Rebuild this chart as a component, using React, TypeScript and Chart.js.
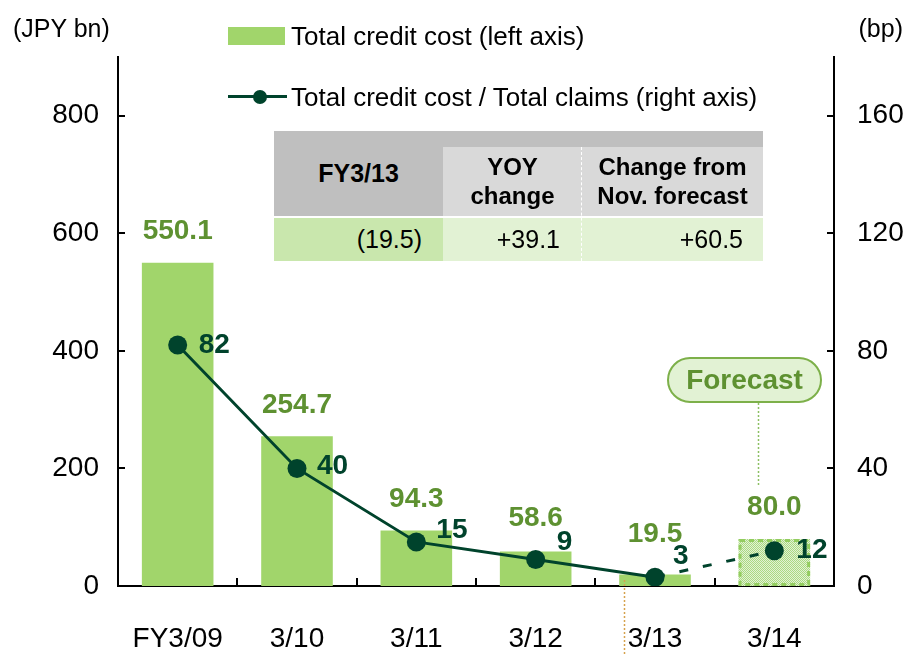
import React, { useEffect, useRef } from 'react';
import { Chart, registerables } from 'chart.js';

Chart.register(...registerables);

// ---------- data ----------
const categories = ['FY3/09', '3/10', '3/11', '3/12', '3/13', '3/14'];
const creditCost = [550.1, 254.7, 94.3, 58.6, 19.5, 80.0];
const creditCostLabels = ['550.1', '254.7', '94.3', '58.6', '19.5', '80.0'];
const costRatio = [82, 40, 15, 9, 3, 12];
const costRatioLabels = ['82', '40', '15', '9', '3', '12'];
const leftTicks = [0, 200, 400, 600, 800];
const rightTicks = [0, 40, 80, 120, 160];
const forecastIndex = 5;
const tableHeaders = [['FY3/13'], ['YOY', 'change'], ['Change from', 'Nov. forecast']];
const tableValues = ['(19.5)', '+39.1', '+60.5'];
const legendLabels = ['Total credit cost (left axis)', 'Total credit cost / Total claims (right axis)'];

// ---------- style ----------
const FONT = '"Liberation Sans", Arial, Helvetica, sans-serif';
const BAR_GREEN = '#a1d56b';
const LABEL_GREEN = '#5e9131';
const DARK = '#00432c';
const barLabelLift = [31, 31, 31, 33, 40, 32];
const lineLabelShift = [
  [21, 0],
  [20, -2],
  [20, -12],
  [21, -17],
  [18, -21],
  [22, 0],
];

function makePattern(ctx: CanvasRenderingContext2D) {
  const c = document.createElement('canvas');
  c.width = 4;
  c.height = 4;
  const p = c.getContext('2d')!;
  p.fillStyle = '#e2f2d4';
  p.fillRect(0, 0, 4, 4);
  p.fillStyle = '#aad982';
  for (let y = 0; y < 4; y++) {
    for (let x = 0; x < 4; x++) {
      if ((x + y) % 2 === 0) p.fillRect(x, y, 1, 1);
    }
  }
  return ctx.createPattern(c, 'repeat')!;
}

const decorPlugin = {
  id: 'decor',
  afterDatasetDraw(chart: any, args: any) {
    if (args.index !== 0) return;
    const ctx = chart.ctx;
    const el = chart.getDatasetMeta(0).data[forecastIndex] as any;
    if (!el) return;
    const w = el.width;
    ctx.save();
    ctx.strokeStyle = '#93cd5f';
    ctx.lineWidth = 3;
    ctx.setLineDash([5, 4]);
    ctx.strokeRect(el.x - w / 2 + 1.5, el.y + 1.5, w - 3, el.base - el.y - 3);
    ctx.restore();
  },
  afterDatasetsDraw(chart: any) {
    const ctx = chart.ctx;
    const barMeta = chart.getDatasetMeta(0);
    const lineMeta = chart.getDatasetMeta(1);
    ctx.save();
    ctx.textBaseline = 'middle';
    ctx.font = `bold 28px ${FONT}`;
    ctx.fillStyle = LABEL_GREEN;
    ctx.textAlign = 'center';
    barMeta.data.forEach((el: any, i: number) => {
      ctx.fillText(creditCostLabels[i], el.x, el.y - barLabelLift[i]);
    });
    ctx.fillStyle = DARK;
    ctx.textAlign = 'left';
    lineMeta.data.forEach((el: any, i: number) => {
      const [dx, dy] = lineLabelShift[i];
      ctx.fillText(costRatioLabels[i], el.x + dx, el.y + dy);
    });
    ctx.restore();
  },
  afterDraw(chart: any) {
    const ctx = chart.ctx;
    const { left, right, bottom } = chart.chartArea;
    const xs = chart.scales.x;
    const y = chart.scales.y;
    const y1 = chart.scales.y1;
    ctx.save();
    ctx.strokeStyle = '#000';
    ctx.lineWidth = 2;
    ctx.beginPath();
    leftTicks.forEach((v) => {
      const py = Math.round(y.getPixelForValue(v));
      ctx.moveTo(left, py);
      ctx.lineTo(left + 7, py);
    });
    rightTicks.forEach((v) => {
      const py = Math.round(y1.getPixelForValue(v));
      ctx.moveTo(right, py);
      ctx.lineTo(right - 7, py);
    });
    for (let i = 0; i < categories.length - 1; i++) {
      const px = Math.round((xs.getPixelForValue(i) + xs.getPixelForValue(i + 1)) / 2);
      ctx.moveTo(px, bottom);
      ctx.lineTo(px, bottom - 8);
    }
    ctx.stroke();

    // dotted guides
    const bars = chart.getDatasetMeta(0).data as any[];
    ctx.lineWidth = 1.5;
    ctx.setLineDash([2, 2]);
    ctx.strokeStyle = '#d6a24e';
    const ox = Math.round(bars[4].x - bars[4].width / 2 + 5) + 0.5;
    ctx.beginPath();
    ctx.moveTo(ox, bottom - 6);
    ctx.lineTo(ox, chart.height);
    ctx.stroke();
    ctx.strokeStyle = '#8cc063';
    const gx = Math.round(bars[forecastIndex].x - 16) + 0.5;
    ctx.beginPath();
    ctx.moveTo(gx, 403);
    ctx.lineTo(gx, bars[forecastIndex].y - 52);
    ctx.stroke();
    ctx.restore();
  },
};

const abs = (style: React.CSSProperties): React.CSSProperties => ({ position: 'absolute', ...style });

export default function App() {
  const ref = useRef<HTMLCanvasElement>(null);

  useEffect(() => {
    const canvas = ref.current!;
    const ctx = canvas.getContext('2d')!;
    const pattern = makePattern(ctx);
    const tickFont = { size: 28, family: FONT };
    const chart = new Chart(ctx, {
      type: 'bar',
      data: {
        labels: categories,
        datasets: [
          {
            type: 'bar',
            label: legendLabels[0],
            data: creditCost,
            yAxisID: 'y',
            backgroundColor: creditCost.map((_, i) => (i === forecastIndex ? (pattern as any) : BAR_GREEN)),
            barPercentage: 0.6,
            categoryPercentage: 1,
            order: 2,
          },
          {
            type: 'line',
            label: legendLabels[1],
            data: costRatio,
            yAxisID: 'y1',
            borderColor: DARK,
            backgroundColor: DARK,
            borderWidth: 3,
            pointRadius: 9.5,
            pointBorderWidth: 0,
            pointBackgroundColor: DARK,
            tension: 0,
            order: 1,
            segment: {
              borderDash: (c: any) => (c.p0DataIndex === forecastIndex - 1 ? [9, 15] : undefined),
              borderDashOffset: (c: any) => (c.p0DataIndex === forecastIndex - 1 ? 23 : undefined),
            },
          } as any,
        ],
      },
      options: {
        responsive: false,
        animation: false,
        devicePixelRatio: 1,
        layout: { padding: { top: 57, left: 0, right: 0, bottom: 0 } },
        plugins: { legend: { display: false }, tooltip: { enabled: false } },
        scales: {
          x: {
            grid: { display: false, drawTicks: false },
            border: { display: true, color: '#000', width: 2 },
            ticks: { color: '#000', font: tickFont, padding: 36, maxRotation: 0, autoSkip: false },
            afterFit: (s: any) => {
              s.height = 70;
            },
          },
          y: {
            position: 'left',
            min: 0,
            max: 900,
            afterBuildTicks: (s: any) => {
              s.ticks = leftTicks.map((v) => ({ value: v }));
            },
            grid: { display: false, drawTicks: false },
            border: { display: true, color: '#000', width: 2 },
            ticks: { color: '#000', font: tickFont, padding: 19 },
            afterFit: (s: any) => {
              s.width = 118;
            },
          },
          y1: {
            position: 'right',
            min: 0,
            max: 180,
            afterBuildTicks: (s: any) => {
              s.ticks = rightTicks.map((v) => ({ value: v }));
            },
            grid: { display: false, drawTicks: false },
            border: { display: true, color: '#000', width: 2 },
            ticks: { color: '#000', font: tickFont, padding: 23 },
            afterFit: (s: any) => {
              s.width = 71;
            },
          },
        },
      },
      plugins: [decorPlugin as any],
    });
    return () => chart.destroy();
  }, []);

  const textBox = (
    left: number,
    top: number,
    width: number,
    height: number,
    lines: string[],
    opts: { align?: 'center' | 'right'; bold?: boolean; size?: number; pr?: number; color?: string; lh?: number }
  ) => (
    <div
      style={abs({
        left,
        top,
        width,
        height,
        display: 'flex',
        flexDirection: 'column',
        justifyContent: 'center',
        alignItems: opts.align === 'right' ? 'flex-end' : 'center',
        paddingRight: opts.pr ?? 0,
        boxSizing: 'border-box',
        fontFamily: FONT,
        fontWeight: opts.bold ? 'bold' : 'normal',
        fontSize: opts.size ?? 24,
        lineHeight: `${opts.lh ?? 29}px`,
        color: opts.color ?? '#000',
        whiteSpace: 'nowrap',
        textAlign: opts.align === 'right' ? 'right' : 'center',
      })}
    >
      {lines.map((l, i) => (
        <div key={i}>{l}</div>
      ))}
    </div>
  );

  return (
    <div style={abs({ left: 0, top: 0, width: 905, height: 656, background: '#fff', overflow: 'hidden' })}>
      <canvas ref={ref} width={905} height={656} style={{ display: 'block', width: 905, height: 656 }} />

      {/* axis units */}
      <div style={abs({ left: 13, top: 13, fontFamily: FONT, fontSize: 25, lineHeight: '30px', color: '#000' })}>(JPY bn)</div>
      <div style={abs({ right: 2, top: 13, fontFamily: FONT, fontSize: 25, lineHeight: '30px', color: '#000' })}>(bp)</div>

      {/* legend */}
      <div style={abs({ left: 228, top: 27, width: 57, height: 18, background: BAR_GREEN })} />
      <div style={abs({ left: 291, top: 20, fontFamily: FONT, fontSize: 26, lineHeight: '32px', color: '#000', whiteSpace: 'nowrap' })}>
        {legendLabels[0]}
      </div>
      <div style={abs({ left: 228, top: 95, width: 59, height: 3, background: DARK })} />
      <div style={abs({ left: 253, top: 89.5, width: 14, height: 14, borderRadius: 7, background: DARK })} />
      <div style={abs({ left: 291, top: 81, fontFamily: FONT, fontSize: 26, lineHeight: '32px', color: '#000', whiteSpace: 'nowrap' })}>
        {legendLabels[1]}
      </div>

      {/* summary table */}
      <div style={abs({ left: 274, top: 131, width: 489, height: 85, background: '#bfbfbf' })} />
      <div style={abs({ left: 443, top: 147, width: 320, height: 69, background: '#d9d9d9' })} />
      <div style={abs({ left: 274, top: 218, width: 169, height: 43, background: '#c9e7ad' })} />
      <div style={abs({ left: 443, top: 218, width: 320, height: 43, background: '#e2f2d4' })} />
      <div style={abs({ left: 581, top: 147, width: 0, height: 114, borderLeft: '1.5px dashed #ffffff' })} />
      {textBox(274, 131, 169, 85, tableHeaders[0], { bold: true, size: 25 })}
      {textBox(443, 152, 139, 58, tableHeaders[1], { bold: true, size: 24 })}
      {textBox(582, 152, 181, 58, tableHeaders[2], { bold: true, size: 24 })}
      {textBox(274, 218, 169, 43, [tableValues[0]], { align: 'right', pr: 21, size: 25 })}
      {textBox(443, 218, 139, 43, [tableValues[1]], { align: 'right', pr: 22, size: 25 })}
      {textBox(582, 218, 181, 43, [tableValues[2]], { align: 'right', pr: 20, size: 25 })}

      {/* forecast tag */}
      <div
        style={abs({
          left: 667,
          top: 357,
          width: 155,
          height: 46,
          boxSizing: 'border-box',
          border: '2px solid #7db04a',
          borderRadius: 23,
          background: '#e2f2d4',
          display: 'flex',
          alignItems: 'center',
          justifyContent: 'center',
          fontFamily: FONT,
          fontWeight: 'bold',
          fontSize: 28,
          color: LABEL_GREEN,
        })}
      >
        Forecast
      </div>
    </div>
  );
}
